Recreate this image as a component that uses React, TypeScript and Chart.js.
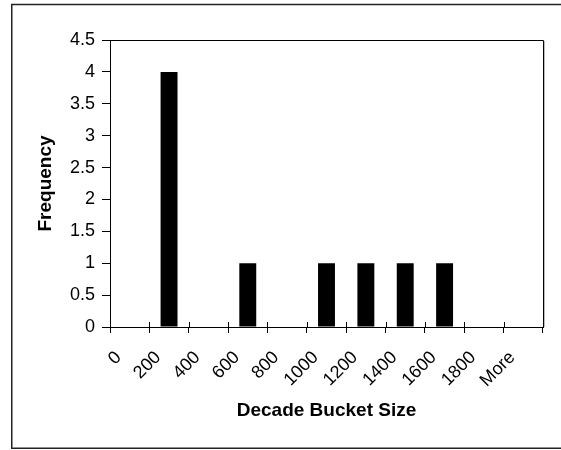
import React, { useEffect, useRef } from "react";
import { Chart, registerables } from "chart.js";

Chart.register(...registerables);

const bucketLabels = ["0", "200", "400", "600", "800", "1000", "1200", "1400", "1600", "1800", "More"];
const frequency = [0, 4, 0, 1, 0, 1, 1, 1, 1, 0, 0];
const yMin = 0;
const yMax = 4.5;
const yStep = 0.5;

const FONT = "'Liberation Sans', Arial, sans-serif";

// Outer chart frame, plot-area box and the upward half of the x tick marks
const framePlugin = {
  id: "frame",
  beforeDraw(chart: any) {
    const ctx = chart.ctx;
    ctx.save();
    ctx.fillStyle = "#ffffff";
    ctx.fillRect(0, 0, chart.width, chart.height);
    ctx.strokeStyle = "#222222";
    ctx.lineWidth = 1.5;
    ctx.strokeRect(11.75, 4.5, chart.width + 20, 443.75);
    ctx.restore();
  },
  afterDraw(chart: any) {
    const ctx = chart.ctx;
    const a = chart.chartArea;
    ctx.save();
    ctx.strokeStyle = "#000000";
    ctx.lineWidth = 1;
    ctx.beginPath();
    ctx.moveTo(a.left, a.top + 0.5);
    ctx.lineTo(a.right + 0.5, a.top + 0.5);
    ctx.lineTo(a.right + 0.5, a.bottom);
    ctx.stroke();
    ctx.strokeStyle = "#bbbbbb";
    ctx.beginPath();
    ctx.moveTo(a.right + 1.5, a.top + 1);
    ctx.lineTo(a.right + 1.5, a.bottom);
    ctx.stroke();
    const xs = chart.scales.x;
    const n = xs.ticks.length;
    ctx.strokeStyle = "#000000";
    ctx.beginPath();
    for (let i = 0; i <= n; i++) {
      const x = Math.round(xs.left + (i * xs.width) / n) + 0.5;
      ctx.moveTo(x, xs.top - 5);
      ctx.lineTo(x, xs.top);
    }
    ctx.stroke();
    ctx.restore();
  },
};

export default function App() {
  const canvasRef = useRef<HTMLCanvasElement | null>(null);

  useEffect(() => {
    document.body.style.margin = "0";
    const canvas = canvasRef.current;
    if (!canvas) return;
    const chart = new Chart(canvas, {
      type: "bar",
      data: {
        labels: bucketLabels,
        datasets: [
          {
            label: "Frequency",
            data: frequency,
            backgroundColor: "#000000",
            borderColor: "#000000",
            borderWidth: 0,
            barPercentage: 0.43,
            categoryPercentage: 1,
          },
        ],
      },
      options: {
        responsive: false,
        animation: false,
        devicePixelRatio: 1,
        layout: { padding: { left: 34, top: 40, right: 18, bottom: 28 } },
        plugins: {
          legend: { display: false },
          tooltip: { enabled: false },
        },
        scales: {
          x: {
            afterFit: (s: any) => {
              s.height = 95;
            },
            border: { display: true, color: "#000000", width: 1 },
            grid: {
              offset: true,
              drawOnChartArea: false,
              drawTicks: true,
              tickLength: 6,
              color: "#000000",
            },
            ticks: {
              color: "#000000",
              font: { family: FONT, size: 18 },
              minRotation: 45,
              maxRotation: 45,
              autoSkip: false,
              padding: 14,
              labelOffset: -11,
            },
            title: {
              display: true,
              text: "Decade Bucket Size",
              color: "#000000",
              font: { family: FONT, size: 19, weight: "bold" },
              padding: 0,
            },
          },
          y: {
            min: yMin,
            max: yMax,
            afterFit: (s: any) => {
              s.width = 76;
            },
            border: { display: true, color: "#000000", width: 1 },
            grid: {
              drawOnChartArea: false,
              drawTicks: true,
              tickLength: 8,
              color: "#000000",
            },
            ticks: {
              stepSize: yStep,
              color: "#000000",
              font: { family: FONT, size: 18 },
              padding: 7,
              callback: (v: any) => String(Number(v)),
            },
            title: {
              display: true,
              text: "Frequency",
              color: "#000000",
              font: { family: FONT, size: 19, weight: "bold" },
              padding: 0,
            },
          },
        },
      },
      plugins: [framePlugin],
    });
    return () => chart.destroy();
  }, []);

  return (
    <div style={{ width: 561, height: 450 }}>
      <canvas ref={canvasRef} width={561} height={450} style={{ display: "block", width: 561, height: 450 }} />
    </div>
  );
}
